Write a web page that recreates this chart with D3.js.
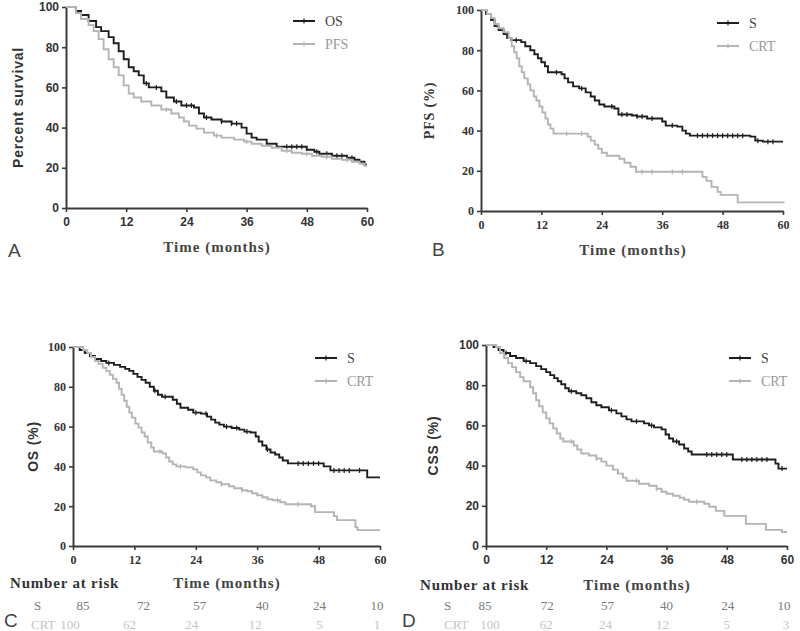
<!DOCTYPE html>
<html><head><meta charset="utf-8">
<script src="https://cdn.jsdelivr.net/npm/d3@7"></script>
<style>body{margin:0;background:#fff}</style>
</head><body>
<svg id="c" width="800" height="631"></svg>
<script>
// ---------- DATA ----------
const xTicks = [0, 12, 24, 36, 48, 60];
const yTicks = [0, 20, 40, 60, 80, 100];

// Panel A: OS and PFS (all patients)
const A_OS = [[0,100],[2,98],[3,96],[4.5,93],[6,90],[7,88],[8.5,85],[9.5,82],[10.5,78],[11.5,74],[12.5,70],[13.5,68],[14.5,66],[15.5,62],[16.5,60],[19,58],[20,55],[21.5,53],[23,51],[25.5,50],[26.5,47],[27.5,45],[29,44],[31,43],[33,42],[35,40],[36,37],[37,35],[38,34],[40,32],[42,30.5],[48,29],[49.5,28],[50.5,27],[53,26],[56,25],[57.5,24],[58.5,23],[59.5,21.5]];
const A_PFS = [[0,100],[2,97],[3,94],[4.5,91],[5.5,88],[6.5,84],[7.5,79],[8.5,74],[9.5,70],[10.5,66],[11.5,61],[12.5,57],[13.5,55],[15,53],[17,51],[19,49],[21,47],[22.5,45],[23.5,43],[24.5,41],[26,39.5],[27.5,37.5],[29.5,36],[31,35],[33.5,34],[35.5,33],[37,32],[39,31],[41,30],[43,28.5],[45,27.5],[47,27],[49,26],[51,25.5],[53,24.5],[55,24],[57,23],[58.5,22],[59.5,21]];
const A_OS_cens = [16,18,22,24,25,28,31,33,34,44,45,46,47,50,52,54,55,57];
const A_PFS_cens = [20,30,36,44,48,52,56];

// Panel B: PFS by group
const B_S = [[0,100],[1,98],[2,95],[2.7,92],[3.5,90],[4.5,88],[5.2,86],[6,85],[8,84],[8.8,82],[9.8,80],[10.6,78],[11.3,76],[12,74],[12.7,72],[13.3,69],[16,68],[16.6,66],[17.3,64],[18.3,62],[19.5,61],[20.8,59],[21.8,57],[22.6,55],[23.5,53],[24.5,52],[26.5,51],[27.3,48],[30,47.5],[31,47],[33,46],[36,44.5],[36.7,42.5],[39,42],[40,40],[40.7,38.5],[41.5,37.5],[53.5,37],[54.5,35],[56,34.5]];
const B_CRT = [[0,100],[1.2,98],[2,96],[2.7,93],[3.5,91],[4.5,89],[5.5,86],[6.1,82],[6.6,79],[7.1,76],[7.6,72],[8.1,69],[8.6,66],[9.3,63],[9.8,60],[10.5,57],[11,55],[11.6,52],[12.2,49],[12.8,46],[13.3,43],[13.8,41],[14.4,38.5],[20.5,38.5],[21.2,37],[21.8,35],[22.6,33],[23.3,31],[24,29],[25,27.5],[27.5,26],[28.5,24],[29.7,22],[30.8,19.5],[43.3,19.5],[44,17],[44.8,15],[45.8,12],[47,9.5],[47.6,8],[51,4.3]];
const B_S_cens = [7,15,20,26,28,29,31,32,34,38,43,44,45,46,47,48,49,50,51,52,55,57,58];
const B_CRT_cens = [17,20,32,34,38,40];

// Panel C: OS by group
const C_S = [[0,100],[1.3,98.5],[2.3,97],[3.3,95.5],[4.3,94],[5.5,93],[6.5,92],[8,91],[9.2,90],[10.2,89],[11,88],[11.8,86.5],[12.6,85],[13.4,83.5],[14.2,82],[15,80],[15.8,78],[16.6,76],[17.4,75],[19.5,73.5],[20.3,71.5],[21,69.5],[22.5,68.5],[23.5,67],[25,66.5],[26.2,65],[27,63.5],[27.8,62],[28.6,61],[29.5,60],[31,59.3],[32.5,58.5],[33.5,57.5],[34.7,57],[35.7,55],[36.3,52.5],[37,50.5],[37.8,48.5],[38.6,47],[39.5,46],[40.3,44.5],[41,43],[42,41.5],[49,40],[50.3,38],[57.5,34.5]];
const C_CRT = [[0,100],[2,98.5],[2.8,97],[3.5,95],[4.3,93],[5,91.5],[5.8,89.5],[6.5,88],[7.2,86],[7.8,84],[8.5,82],[9,79],[9.5,76],[10,73],[10.5,70],[11,67],[11.5,64.5],[12.2,61.5],[12.8,59.5],[13.4,57],[14,55],[14.6,52],[15.3,49.5],[15.8,47.5],[17.5,46.5],[18.2,44.5],[18.8,42.5],[19.5,41],[20.2,40],[22,39.5],[23.5,38.5],[24.3,37],[25,35.5],[26,34.5],[26.8,33],[28,32],[29,31],[30.5,30],[31.5,29],[33,28],[34,27.5],[35,26.5],[36,25.5],[37,24.5],[38,23.5],[39,23],[40.5,22],[41.5,21],[46.5,20],[47.3,17],[51,15],[51.6,13],[55.2,9.5],[55.6,8]];
const C_S_cens = [7,16,18,24,26,30,32,34,38,44,45,46,47,48,51,52,53,54,56];
const C_CRT_cens = [17,21,29,33,40,44];

// Panel D: CSS by group
const D_S = [[0,100],[1.5,99],[2.5,97.5],[3.5,96],[4.8,94.5],[6,93.5],[7.5,92],[8.8,91],[10,89.5],[11,88],[12,86.5],[12.8,85],[13.6,83.5],[14.3,82],[15,80.5],[15.8,78.5],[16.5,77],[18,76],[19,75],[20,73.5],[21,71.5],[22,70],[23,69],[24.5,67.5],[26,66],[27,64.5],[28,63],[29,62],[31.5,61],[32.5,60],[33.5,59],[35,58],[35.8,55.5],[36.5,53.5],[37.3,52],[38.5,50.5],[39.5,48.5],[40.3,47],[41,45.5],[49.2,43],[57.7,41],[58.3,38.5]];
const D_CRT = [[0,100],[2,99],[2.8,96],[3.6,93.5],[4.4,91],[5.2,89],[6,86.5],[6.8,84],[7.5,82],[8.8,79],[9.4,76],[10,72.5],[10.6,69.5],[11.3,66.5],[12,63.5],[12.7,61],[13.4,58.5],[14.1,56],[14.8,53.5],[15.4,52],[17.5,50],[18.2,48],[19,46],[20.5,45],[22,43.5],[23,42],[24,40],[25.3,38],[26.3,36],[27.3,34],[28,32.5],[30.5,31],[32.5,30],[34,28.5],[35,27],[36,26],[37.3,25],[38.6,24],[39.5,23],[40.5,22],[43.5,21],[44.5,19.5],[45.8,17.5],[47.5,15],[51.8,11],[55.8,8],[59,7]];
const D_S_cens = [4,8,17,25,30,33,38,44,45,46,47,48,51,52,53,54,55,56,59];
const D_CRT_cens = [17,22,30,34,42];

// Number at risk
const riskLabels = ["S", "CRT"];
const riskC_S = [85, 72, 57, 40, 24, 10];
const riskC_CRT = [100, 62, 24, 12, 5, 1];
const riskD_S = [85, 72, 57, 40, 24, 10];
const riskD_CRT = [100, 62, 24, 12, 5, 3];

// ---------- DRAW ----------
const svg = d3.select("#c");
const DARK = "#1e1e1e", LIGHT = "#b4b4b4";

function stepVal(data, t) {
  const i = d3.bisector(d => d[0]).right(data, t) - 1;
  return data[Math.max(0, i)][1];
}

function panel(o) {
  const x = d3.scaleLinear().domain([0, 60]).range([o.x0, o.x1]);
  const y = d3.scaleLinear().domain([0, 100]).range([o.y0, o.y1]);
  const g = svg.append("g");

  const xa = g.append("g").attr("transform", `translate(0,${o.y0})`)
    .call(d3.axisBottom(x).tickValues(xTicks).tickSize(4).tickPadding(5).tickSizeOuter(0));
  const ya = g.append("g").attr("transform", `translate(${o.x0},0)`)
    .call(d3.axisLeft(y).tickValues(yTicks).tickSize(4).tickPadding(3).tickSizeOuter(0));
  [xa, ya].forEach(a => {
    a.select(".domain").attr("stroke", "#3a3a3a").attr("stroke-width", 2);
    a.selectAll(".tick line").attr("stroke", "#3a3a3a").attr("stroke-width", 1.6);
    a.selectAll(".tick text").attr("fill", "#333").style("font-family", o.tickFont)
      .style("font-size", "12px").style("font-weight", "bold");
  });

  const line = d3.line().x(d => x(d[0])).y(d => y(d[1])).curve(d3.curveStepAfter);
  o.series.forEach(s => {
    const pts = s.data.concat([[s.end, s.data[s.data.length - 1][1]]]);
    g.append("path").attr("d", line(pts)).attr("fill", "none")
      .attr("stroke", s.color).attr("stroke-width", 1.9);
    g.selectAll(null).data(s.cens).enter().append("line")
      .attr("x1", t => x(t)).attr("x2", t => x(t))
      .attr("y1", t => y(stepVal(s.data, t)) - 2.5).attr("y2", t => y(stepVal(s.data, t)) + 2.5)
      .attr("stroke", s.color).attr("stroke-width", 1.2);
  });

  o.series.forEach((s, i) => {
    const ly = o.legY + i * 23;
    g.append("line").attr("x1", o.legX).attr("x2", o.legX + 22).attr("y1", ly).attr("y2", ly)
      .attr("stroke", s.color).attr("stroke-width", 2);
    g.append("line").attr("x1", o.legX + 11).attr("x2", o.legX + 11).attr("y1", ly - 2.5).attr("y2", ly + 2.5)
      .attr("stroke", s.color).attr("stroke-width", 1.2);
    g.append("text").attr("x", o.legX + 32).attr("y", ly + 5).text(s.name)
      .style("font-family", "Liberation Serif").style("font-size", "14px").attr("fill", i ? "#999" : "#444");
  });

  g.append("text").attr("transform", `translate(${o.yTitleX},${(o.y0 + o.y1) / 2}) rotate(-90)`)
    .attr("text-anchor", "middle").text(o.yTitle)
    .style("font-family", o.yTitleFont).style("font-size", "14px").style("font-weight", "bold")
    .style("letter-spacing", "0.8px").attr("fill", "#333");
  g.append("text").attr("x", o.xTitleX).attr("y", o.xTitleY).attr("text-anchor", "middle")
    .text("Time (months)").style("font-family", "Liberation Serif").style("font-size", "15px")
    .style("font-weight", "bold").style("letter-spacing", "1px").attr("fill", "#444");
  g.append("text").attr("x", o.letX).attr("y", o.letY).text(o.letter)
    .style("font-family", "Liberation Sans").style("font-size", "19px").attr("fill", "#444");

  if (o.risk) {
    g.append("text").attr("x", o.risk.labelX).attr("y", o.xTitleY).text("Number at risk")
      .style("font-family", "Liberation Serif").style("font-size", "15px").style("font-weight", "bold")
      .style("letter-spacing", "0.8px").attr("fill", "#333");
    o.risk.rows.forEach((r, i) => {
      const ry = o.risk.y + i * 19;
      g.append("text").attr("x", r.nameX).attr("y", ry).text(riskLabels[i])
        .style("font-family", "Liberation Serif").style("font-size", "13px").attr("fill", r.color);
      g.selectAll(null).data(r.vals).enter().append("text")
        .attr("x", (d, j) => x(xTicks[j]) + r.off[j])
        .attr("y", ry).attr("text-anchor", "middle").text(d => d)
        .style("font-family", "Liberation Serif").style("font-size", "13px").attr("fill", r.color);
    });
  }
}

panel({x0: 66, x1: 367, y0: 208, y1: 7, tickFont: "Liberation Sans", yTitle: "Percent survival", yTitleFont: "Liberation Sans",
  yTitleX: 23, xTitleX: 217, xTitleY: 252, letter: "A", letX: 8, letY: 257, legX: 293, legY: 21,
  series: [{name: "OS", data: A_OS, cens: A_OS_cens, color: DARK, end: 60},
           {name: "PFS", data: A_PFS, cens: A_PFS_cens, color: LIGHT, end: 60}]});

panel({x0: 481, x1: 783, y0: 211, y1: 10, tickFont: "Liberation Serif", yTitle: "PFS (%)", yTitleFont: "Liberation Serif",
  yTitleX: 434, xTitleX: 633, xTitleY: 255, letter: "B", letX: 432, letY: 256, legX: 717, legY: 23,
  series: [{name: "S", data: B_S, cens: B_S_cens, color: DARK, end: 60},
           {name: "CRT", data: B_CRT, cens: B_CRT_cens, color: LIGHT, end: 60.3}]});

panel({x0: 73, x1: 380, y0: 546, y1: 347, tickFont: "Liberation Serif", yTitle: "OS (%)", yTitleFont: "Liberation Sans",
  yTitleX: 38, xTitleX: 227, xTitleY: 588, letter: "C", letX: 4, letY: 627, legX: 315, legY: 358,
  risk: {labelX: 10, y: 610, rows: [
    {vals: riskC_S, color: "#7a7a7a", nameX: 34, off: [10, 9, 4, 5, 1, -3]},
    {vals: riskC_CRT, color: "#c4c4c4", nameX: 31, off: [-3, -5, -4, -2, 1, -3]}]},
  series: [{name: "S", data: C_S, cens: C_S_cens, color: DARK, end: 60},
           {name: "CRT", data: C_CRT, cens: C_CRT_cens, color: LIGHT, end: 60}]});

panel({x0: 486, x1: 787, y0: 546, y1: 345, tickFont: "Liberation Sans", yTitle: "CSS (%)", yTitleFont: "Liberation Sans",
  yTitleX: 438, xTitleX: 637, xTitleY: 590, letter: "D", letX: 402, letY: 627, legX: 729, legY: 358,
  risk: {labelX: 420, y: 610, rows: [
    {vals: riskD_S, color: "#7a7a7a", nameX: 444, off: [-1, 1, 1, 0, 1, -3]},
    {vals: riskD_CRT, color: "#c4c4c4", nameX: 444, off: [4, 0, -1, -4, 0, -1]}]},
  series: [{name: "S", data: D_S, cens: D_S_cens, color: DARK, end: 60},
           {name: "CRT", data: D_CRT, cens: D_CRT_cens, color: LIGHT, end: 60}]});
</script>
</body></html>
